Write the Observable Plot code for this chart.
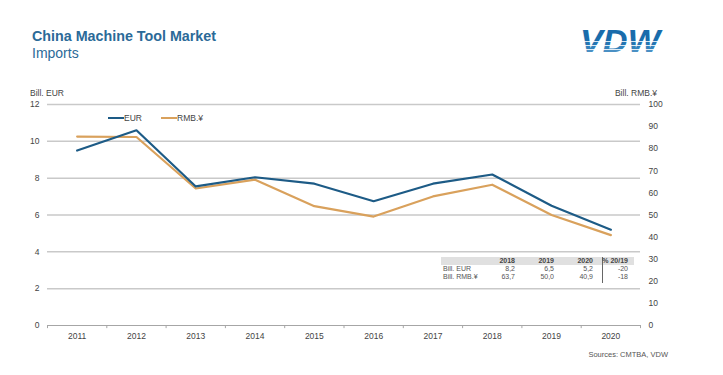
<!DOCTYPE html>
<html>
<head>
<meta charset="utf-8">
<script src="https://cdn.jsdelivr.net/npm/d3@7"></script>
<script src="https://cdn.jsdelivr.net/npm/@observablehq/plot@0.6"></script>
<style>
  html, body { margin: 0; padding: 0; background: #fff; }
  body { width: 723px; height: 375px; position: relative; overflow: hidden; font-family: "Liberation Sans", Arial, sans-serif; }
  .abs { position: absolute; white-space: nowrap; }
  .title { left: 32px; top: 28px; font-size: 14.3px; font-weight: bold; color: #2b6a98; }
  .subtitle { left: 32px; top: 45px; font-size: 14px; color: #2b6a98; }
  .small { font-size: 8.5px; color: #444; }
  .tbl { font-size: 7px; color: #555; }
  #chart { position: absolute; left: 0; top: 0; }
</style>
</head>
<body>
<div id="chart"></div>
<div class="abs title">China Machine Tool Market</div>
<div class="abs subtitle">Imports</div>
<svg class="abs" style="left:570px;top:12px" width="112" height="48">
  <defs>
    <linearGradient id="stripes" gradientUnits="userSpaceOnUse" x1="0" y1="16" x2="0" y2="41">
      <stop offset="0" stop-color="#1a6cab"/>
      <stop offset="0.5" stop-color="#1a6cab"/>
      <stop offset="0.5" stop-color="#d6e6f2"/>
      <stop offset="0.56" stop-color="#d6e6f2"/>
      <stop offset="0.56" stop-color="#2475b1"/>
      <stop offset="0.66" stop-color="#2475b1"/>
      <stop offset="0.66" stop-color="#dce9f3"/>
      <stop offset="0.72" stop-color="#dce9f3"/>
      <stop offset="0.72" stop-color="#3382bb"/>
      <stop offset="0.82" stop-color="#3382bb"/>
      <stop offset="0.82" stop-color="#e2edf6"/>
      <stop offset="0.88" stop-color="#e2edf6"/>
      <stop offset="0.88" stop-color="#4a90c4"/>
      <stop offset="1" stop-color="#4a90c4"/>
    </linearGradient>
  </defs>
  <text x="10" y="40" font-family="Liberation Sans, Arial, sans-serif" font-size="31" font-weight="bold" font-style="italic" fill="url(#stripes)" textLength="80" lengthAdjust="spacingAndGlyphs">VDW</text>
</svg>
<div class="abs small" style="left:30px;top:88px">Bill. EUR</div>
<div class="abs small" style="right:66px;top:88px">Bill. RMB.¥</div>
<div id="legend"></div>
<div id="table"></div>
<div class="abs small" style="right:55px;top:350px;font-size:7.5px;color:#555">Sources: CMTBA, VDW</div>
<script>
// ---- data ----
const years = [2011, 2012, 2013, 2014, 2015, 2016, 2017, 2018, 2019, 2020];
const eurValues = [9.5, 10.6, 7.55, 8.05, 7.7, 6.75, 7.7, 8.2, 6.5, 5.2];
const rmbValues = [85.5, 85.3, 62.0, 66.0, 54.0, 49.3, 58.4, 63.7, 50.0, 40.9];
const leftTicks = [0, 2, 4, 6, 8, 10, 12];
const rightTicks = [0, 10, 20, 30, 40, 50, 60, 70, 80, 90, 100];
const tableYears = [2018, 2019, 2020];
const tableRows = ["Bill. EUR", "Bill. RMB.¥"];
const changePct = [-20, -18];
const seriesNames = ["EUR", "RMB.¥"];
const seriesColors = ["#1d5b86", "#d9a15c"];

const rmbMax = 100, eurMax = 12;
const toLeft = v => v * eurMax / rmbMax;
const eurData = years.map((y, i) => ({year: y, v: eurValues[i]}));
const rmbData = years.map((y, i) => ({year: y, v: toLeft(rmbValues[i])}));
const boundaries = d3.range(years.length + 1).map(i => years[0] - 0.5 + i);

const plot = Plot.plot({
  width: 723,
  height: 375,
  marginLeft: 47,
  marginRight: 83,
  marginTop: 104,
  marginBottom: 50,
  style: {fontFamily: "Liberation Sans, Arial, sans-serif", background: "transparent"},
  x: {type: "linear", domain: [boundaries[0], boundaries[boundaries.length - 1]], axis: null},
  y: {domain: [0, eurMax], axis: null},
  marks: [
    Plot.ruleY(leftTicks.filter(d => d > 0), {stroke: "#c9c9c9", strokeWidth: 1.5}),
    Plot.ruleY([0], {stroke: "#a6a6a6", strokeWidth: 1}),
    Plot.ruleX(boundaries, {y1: 0, y2: -0.17, stroke: "#a6a6a6"}),
    Plot.line(rmbData, {x: "year", y: "v", stroke: seriesColors[1], strokeWidth: 2.2}),
    Plot.line(eurData, {x: "year", y: "v", stroke: seriesColors[0], strokeWidth: 2.2}),
    Plot.text(leftTicks, {x: boundaries[0], y: d => d, text: d => String(d), dx: -8, textAnchor: "end", fontSize: 8.5, fill: "#444"}),
    Plot.text(rightTicks, {x: boundaries[boundaries.length - 1], y: d => toLeft(d), text: d => String(d), dx: 8, textAnchor: "start", fontSize: 8.5, fill: "#444"}),
    Plot.text(years, {x: d => d, y: 0, text: d => String(d), dy: 11, fontSize: 8.5, fill: "#444"})
  ]
});
document.getElementById("chart").appendChild(plot);

// ---- legend ----
const legend = document.getElementById("legend");
const legendX = [108, 161];
seriesNames.forEach((name, i) => {
  const line = document.createElement("div");
  line.className = "abs";
  line.style.cssText = `left:${legendX[i]}px;top:117px;width:16px;height:2px;background:${seriesColors[i]}`;
  legend.appendChild(line);
  const t = document.createElement("div");
  t.className = "abs small";
  t.style.cssText = `left:${legendX[i] + 16}px;top:113px;color:#444`;
  t.textContent = name;
  legend.appendChild(t);
});

// ---- table ----
const tbl = document.getElementById("table");
const add = (html, css, cls = "abs tbl") => {
  const d = document.createElement("div");
  d.className = cls;
  d.style.cssText = css;
  d.textContent = html;
  tbl.appendChild(d);
};
add("", "left:441px;top:257px;width:193px;height:8px;background:#e0e0e0");
add("", "left:602px;top:257px;width:1px;height:26px;background:#666");
const colRight = [515, 554, 593];
const fmt = v => v.toFixed(1).replace(".", ",");
tableYears.forEach((y, j) => add(String(y), `left:${colRight[j] - 30}px;width:30px;text-align:right;top:257px;font-weight:bold;color:#444`));
add("% 20/19", "left:594px;width:34px;text-align:right;top:257px;font-weight:bold;color:#444");
const rowVals = [eurValues.slice(-3), rmbValues.slice(-3)];
tableRows.forEach((r, i) => {
  const top = 265 + i * 8;
  add(r, `left:443px;top:${top}px`);
  rowVals[i].forEach((v, j) => add(fmt(v), `left:${colRight[j] - 30}px;width:30px;text-align:right;top:${top}px`));
  add(String(changePct[i]), `left:594px;width:34px;text-align:right;top:${top}px`);
});
</script>
</body>
</html>
